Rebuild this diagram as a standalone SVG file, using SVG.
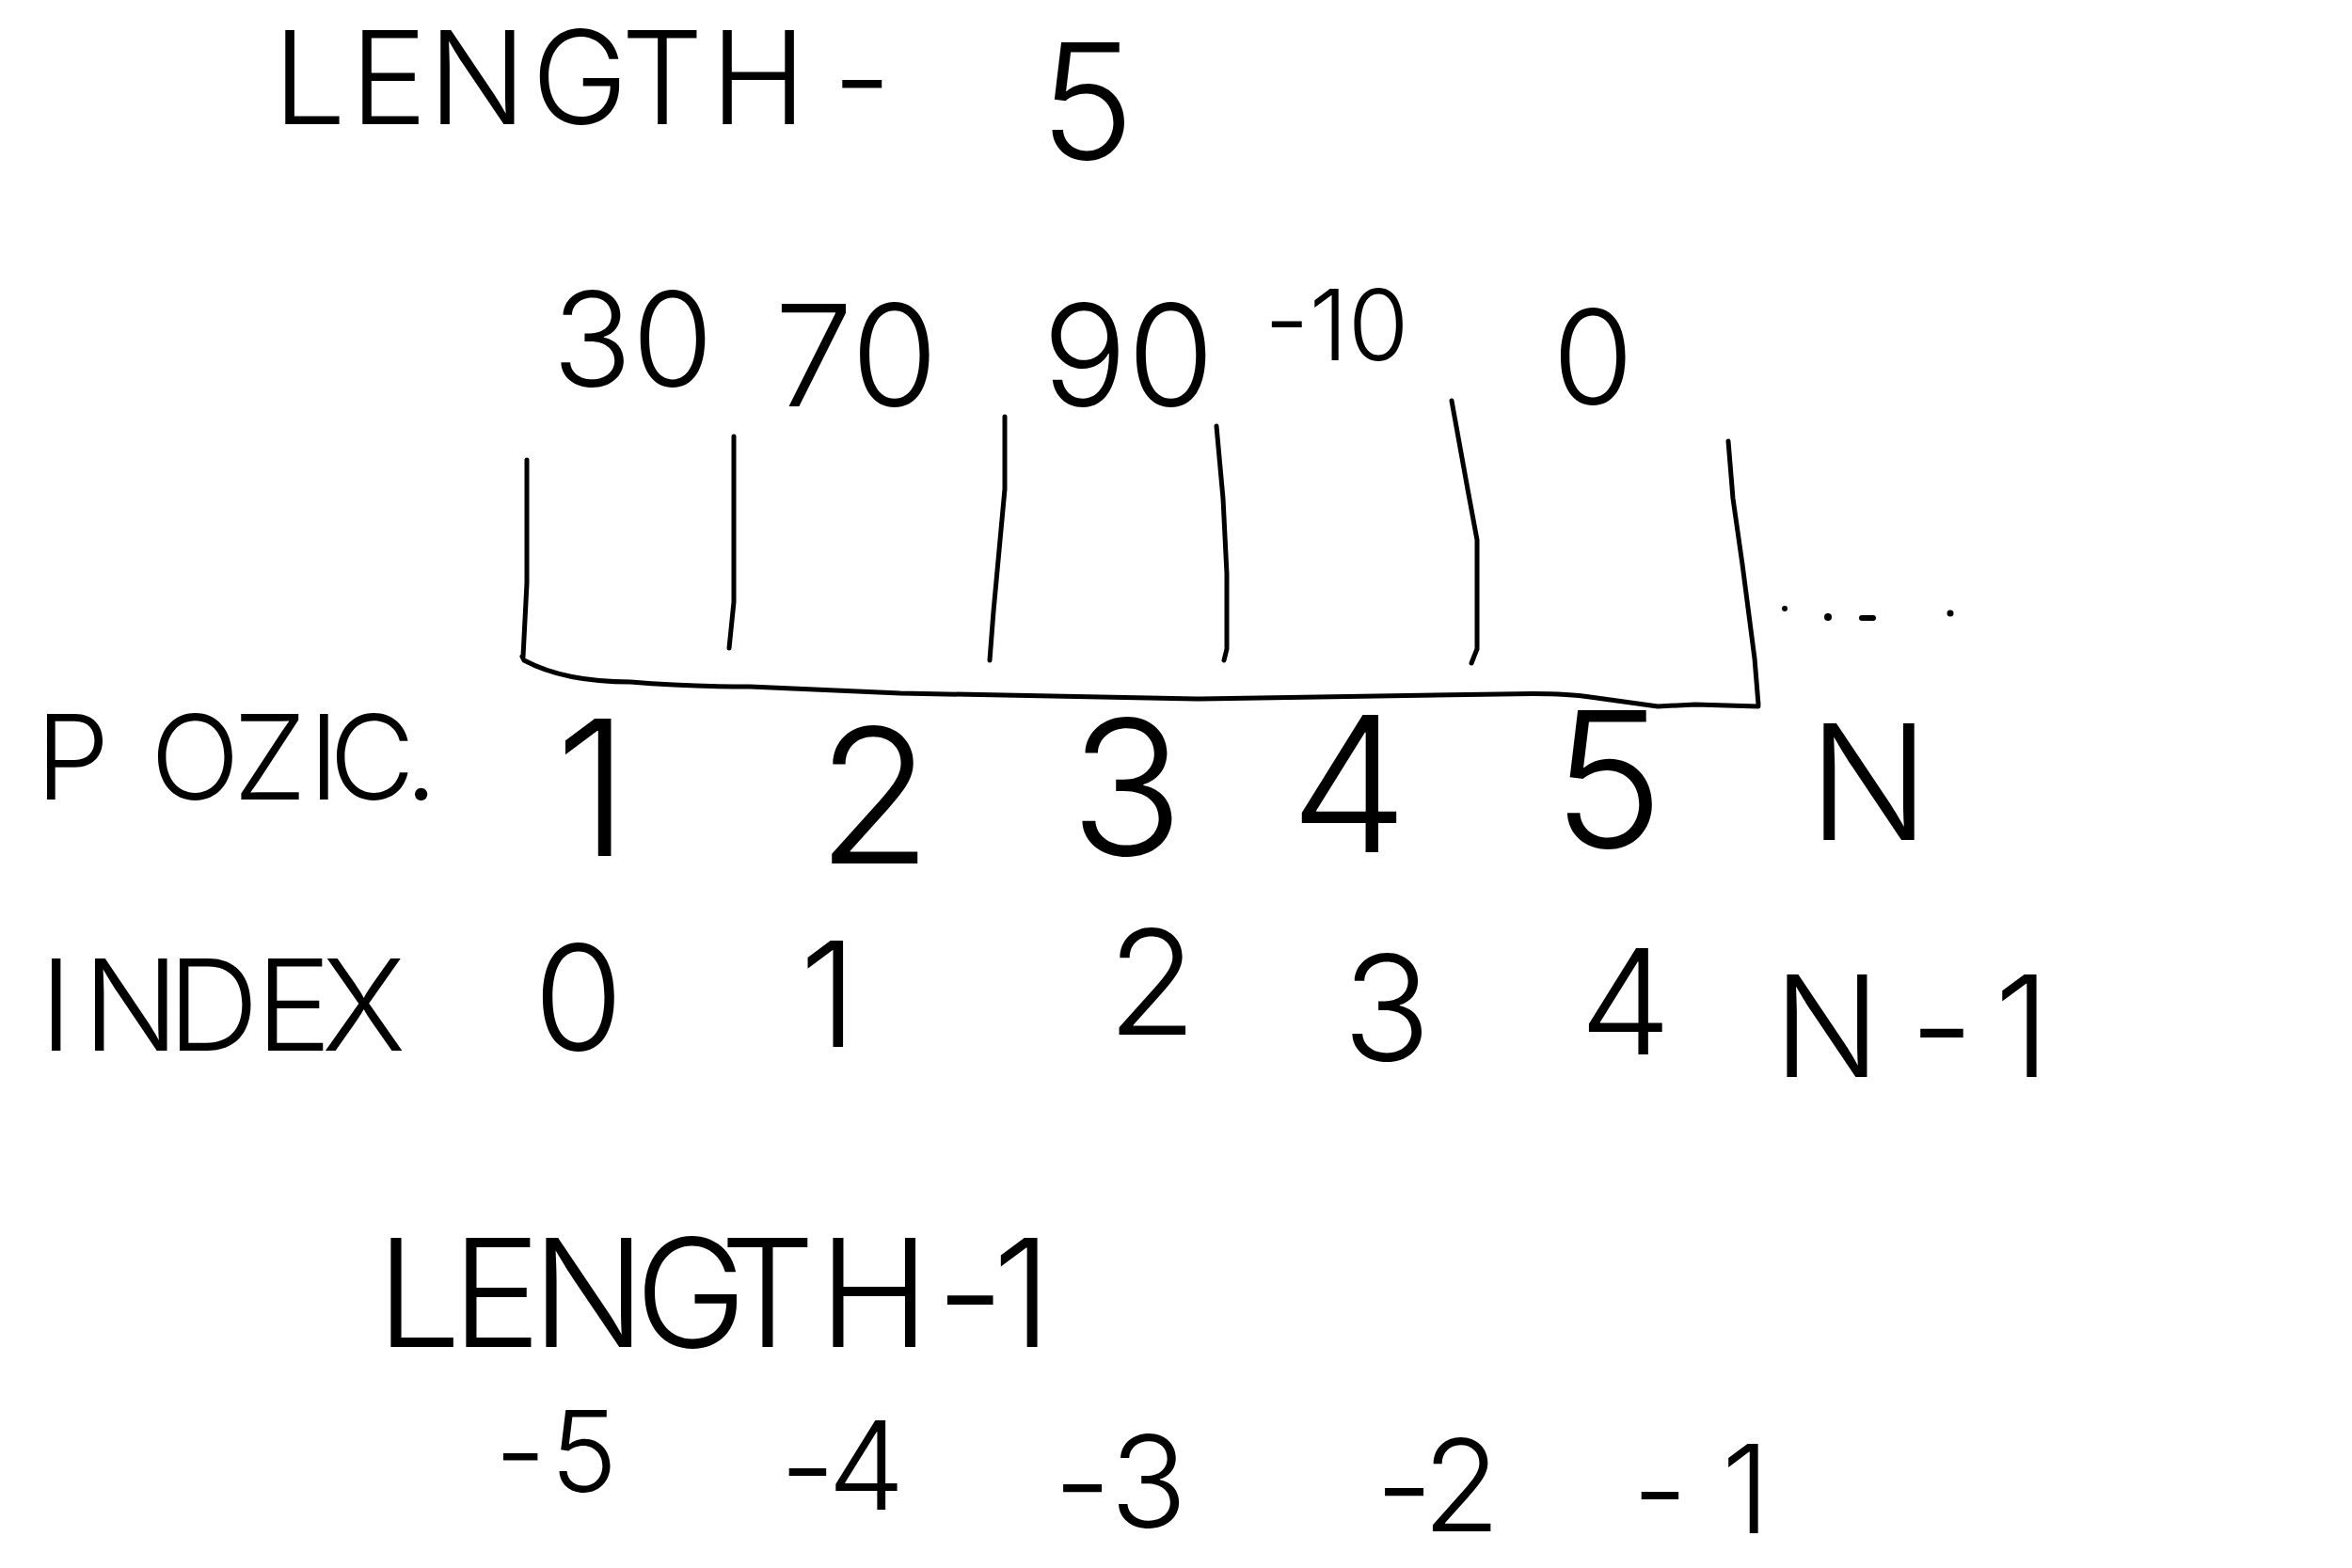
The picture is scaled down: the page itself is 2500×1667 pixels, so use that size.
<svg xmlns="http://www.w3.org/2000/svg" width="2500" height="1667" viewBox="0 0 2500 1667">
<style>
text{font-family:Inter,"Liberation Sans",sans-serif;font-weight:300;fill:#000}
.ln{fill:none;stroke:#000;stroke-width:5;stroke-linecap:round;stroke-linejoin:round}
</style>
<rect width="2500" height="1667" fill="#fff"/>
<g id="length-top">
<text font-size="138" x="290 372 455 565 660 755 850 885" y="132">LENGTH -</text>
<text font-size="170" x="1105" y="169">5</text>
</g>
<g id="values">
<text font-size="140" x="587" y="411">30</text>
<text font-size="150" x="823" y="432">70</text>
<text font-size="150" x="1108" y="432">90</text>
<text font-size="105" x="1344" y="383">-10</text>
<text font-size="140" x="1650" y="430">0</text>
</g>
<g id="array">
<path class="ln" d="M560 489 L560 620 L556 698"/>
<path class="ln" d="M780 464 L780 640 L775 689"/>
<path class="ln" d="M1068 443 L1068 520 L1056 650 L1052 702"/>
<path class="ln" d="M1293 453 L1300 530 L1304 610 L1304 690 L1301 702"/>
<path class="ln" d="M1543 426 L1560 520 L1570 574 L1570 690 L1564 705"/>
<path class="ln" d="M1837 469 L1842 530 L1852 600 L1865 700 L1869 749"/>
<path class="ln" d="M555 698 L557 702 Q600 725 670 725 Q730 730 797 730 L957 737 L1276 743 L1594 738 Q1660 736 1690 741 L1762 751 L1802 749 L1869 751"/>
<circle cx="1897" cy="647" r="3"/>
<circle cx="1943" cy="656" r="4"/>
<path class="ln" d="M1979 657 L1991 657" style="stroke-width:6"/>
<circle cx="2073" cy="652" r="3.5"/>
</g>
<g id="pozice">
<text font-size="125" x="38 160 248 328 350 430" y="850">POZIC.</text>
<text font-size="200" x="590" y="910">1</text>
<text font-size="200" x="868" y="918">2</text>
<text font-size="200" x="1137" y="909">3</text>
<text font-size="200" x="1371" y="906">4</text>
<text font-size="200" x="1650" y="901">5</text>
<text font-size="170" x="1922" y="893">N</text>
</g>
<g id="index">
<text font-size="135" x="42 88 178 272 342" y="1117">INDEX</text>
<text font-size="155" x="567" y="1116">0</text>
<text font-size="155" x="850" y="1113">1</text>
<text font-size="155" x="1177" y="1100">2</text>
<text font-size="155" x="1427" y="1127">3</text>
<text font-size="155" x="1679" y="1121">4</text>
<text font-size="150" x="1885 2030 2120" y="1145">N-1</text>
</g>
<g id="length-bottom">
<text font-size="160" x="400 480 565 675 765 870 995 1055" y="1432">LENGTH-1</text>
</g>
<g id="negative">
<text font-size="120" x="526 585" y="1586">-5</text>
<text font-size="130" x="829 880" y="1605">-4</text>
<text font-size="135" x="1120 1180" y="1624">-3</text>
<text font-size="135" x="1462 1512" y="1628">-2</text>
<text font-size="130" x="1735 1830" y="1630">-1</text>
</g>
</svg>
